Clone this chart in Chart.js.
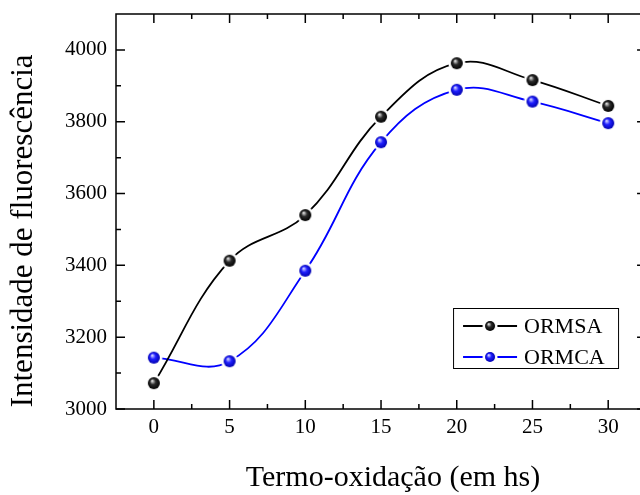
<!DOCTYPE html>
<html>
<head>
<meta charset="utf-8">
<script src="https://cdn.jsdelivr.net/npm/chart.js@4"></script>
<style>
html, body { margin: 0; padding: 0; overflow: hidden; background: #fff; }
</style>
</head>
<body>
<canvas id="graf" width="640" height="495"></canvas>
<script>
const tempos = [0, 5, 10, 15, 20, 25, 30];
const ormsa = [3072, 3413, 3540, 3814, 3963, 3916, 3844];
const ormca = [3143, 3133, 3385, 3743, 3889, 3856, 3796];
const xTicks = [0, 5, 10, 15, 20, 25, 30];
const yTicks = [3000, 3200, 3400, 3600, 3800, 4000];
const nomes = ["ORMSA", "ORMCA"];
const cores = ["#000000", "#0000ff"];

const fonte = '"Liberation Serif", "Times New Roman", serif';
const xFim = 32.5; // borda direita da moldura (fica fora da imagem)

// bolinha com brilho (estilo Origin) + anel branco para o "gap" da linha
function esfera(r, claro, base, escuro) {
    const c = document.createElement("canvas");
    const s = Math.ceil(2 * (r + 3));
    c.width = s; c.height = s;
    const g = c.getContext("2d");
    const m = s / 2;
    g.fillStyle = "#ffffff";
    g.beginPath(); g.arc(m, m, r + 2.5, 0, Math.PI * 2); g.fill();
    const grad = g.createRadialGradient(m - r * 0.3, m - r * 0.4, r * 0.05, m, m, r);
    grad.addColorStop(0, claro);
    grad.addColorStop(0.45, base);
    grad.addColorStop(1, escuro);
    g.fillStyle = grad;
    g.beginPath(); g.arc(m, m, r, 0, Math.PI * 2); g.fill();
    return c;
}

const bolas = [esfera(6, "#e8e8e8", "#2a2a2a", "#000000"), esfera(6, "#dcdcff", "#2020ff", "#0000b0")];
const bolasLeg = [esfera(5, "#e8e8e8", "#2a2a2a", "#000000"), esfera(5, "#dcdcff", "#2020ff", "#0000b0")];

function pontos(valores) {
    return tempos.map(function (t, i) { return { x: t, y: valores[i] }; });
}

// moldura com marcas para dentro nos 4 lados + legenda
const moldura = {
    id: "moldura",
    afterDraw(chart) {
        const a = chart.chartArea;
        const ctx = chart.ctx;
        const sx = chart.scales.x, sy = chart.scales.y;
        const dir = sx.getPixelForValue(xFim);
        ctx.save();
        ctx.strokeStyle = "#000";
        ctx.lineWidth = 1.5;
        ctx.strokeRect(a.left, a.top, dir - a.left, a.bottom - a.top);
        ctx.beginPath();
        xTicks.forEach(function (v, i) {
            const px = sx.getPixelForValue(v);
            ctx.moveTo(px, a.bottom); ctx.lineTo(px, a.bottom - 9);
            ctx.moveTo(px, a.top); ctx.lineTo(px, a.top + 9);
            if (i < xTicks.length - 1) {
                const pm = sx.getPixelForValue((v + xTicks[i + 1]) / 2);
                ctx.moveTo(pm, a.bottom); ctx.lineTo(pm, a.bottom - 5);
                ctx.moveTo(pm, a.top); ctx.lineTo(pm, a.top + 5);
            }
        });
        yTicks.forEach(function (v, i) {
            const py = sy.getPixelForValue(v);
            ctx.moveTo(a.left, py); ctx.lineTo(a.left + 9, py);
            ctx.moveTo(dir, py); ctx.lineTo(dir - 9, py);
            if (i < yTicks.length - 1) {
                const pm = sy.getPixelForValue((v + yTicks[i + 1]) / 2);
                ctx.moveTo(a.left, pm); ctx.lineTo(a.left + 5, pm);
                ctx.moveTo(dir, pm); ctx.lineTo(dir - 5, pm);
            }
        });
        ctx.stroke();

        // legenda dentro do gráfico
        const x0 = dir - 193, y0 = a.bottom - 101;
        ctx.lineWidth = 1;
        ctx.strokeStyle = "#000";
        ctx.strokeRect(x0 + 0.5, y0 + 0.5, 165, 60);
        ctx.font = "22px " + fonte;
        ctx.textBaseline = "middle";
        ctx.textAlign = "left";
        nomes.forEach(function (n, i) {
            const y = y0 + 18 + i * 31;
            ctx.strokeStyle = cores[i];
            ctx.lineWidth = 1.8;
            ctx.beginPath();
            ctx.moveTo(x0 + 10, y); ctx.lineTo(x0 + 64, y);
            ctx.stroke();
            const b = bolasLeg[i];
            ctx.drawImage(b, x0 + 37 - b.width / 2, y - b.height / 2);
            ctx.fillStyle = "#000";
            ctx.fillText(n, x0 + 71, y + 1);
        });
        ctx.restore();
    }
};

new Chart(document.getElementById("graf"), {
    type: "line",
    data: {
        datasets: [
            {
                label: nomes[0],
                data: pontos(ormsa),
                borderColor: cores[0],
                borderWidth: 1.8,
                tension: 0.4,
                pointStyle: bolas[0],
                fill: false
            },
            {
                label: nomes[1],
                data: pontos(ormca),
                borderColor: cores[1],
                borderWidth: 1.8,
                tension: 0.4,
                pointStyle: bolas[1],
                fill: false
            }
        ]
    },
    options: {
        responsive: false,
        animation: false,
        layout: { autoPadding: false, padding: { top: 14, right: 0, left: 0, bottom: 0 } },
        plugins: {
            legend: { display: false },
            tooltip: { enabled: false }
        },
        scales: {
            x: {
                type: "linear",
                min: -2.5,
                max: 32.1,
                grid: { display: false, drawTicks: false },
                border: { display: false },
                afterBuildTicks: function (s) { s.ticks = xTicks.map(function (v) { return { value: v }; }); },
                afterFit: function (s) { s.height = 86; },
                ticks: {
                    padding: 6,
                    color: "#000",
                    font: { family: fonte, size: 21 },
                    callback: function (v) { return String(v); }
                },
                title: {
                    display: true,
                    text: "    Termo-oxidação (em hs)",
                    color: "#000",
                    font: { family: fonte, size: 30, lineHeight: 1 },
                    padding: { top: 0, bottom: 2 }
                }
            },
            y: {
                min: 3000,
                max: 4100,
                grid: { display: false, drawTicks: false },
                border: { display: false },
                afterBuildTicks: function (s) { s.ticks = yTicks.map(function (v) { return { value: v }; }); },
                afterFit: function (s) { s.width = 116; },
                ticks: {
                    padding: 9,
                    color: "#000",
                    font: { family: fonte, size: 21, lineHeight: 0.4 },
                    callback: function (v) { return String(v); }
                },
                title: {
                    display: true,
                    text: "Intensidade de fluorescência     ",
                    color: "#000",
                    font: { family: fonte, size: 31, lineHeight: 1 },
                    padding: { top: 8, bottom: 0 }
                }
            }
        }
    },
    plugins: [moldura]
});
</script>
</body>
</html>
